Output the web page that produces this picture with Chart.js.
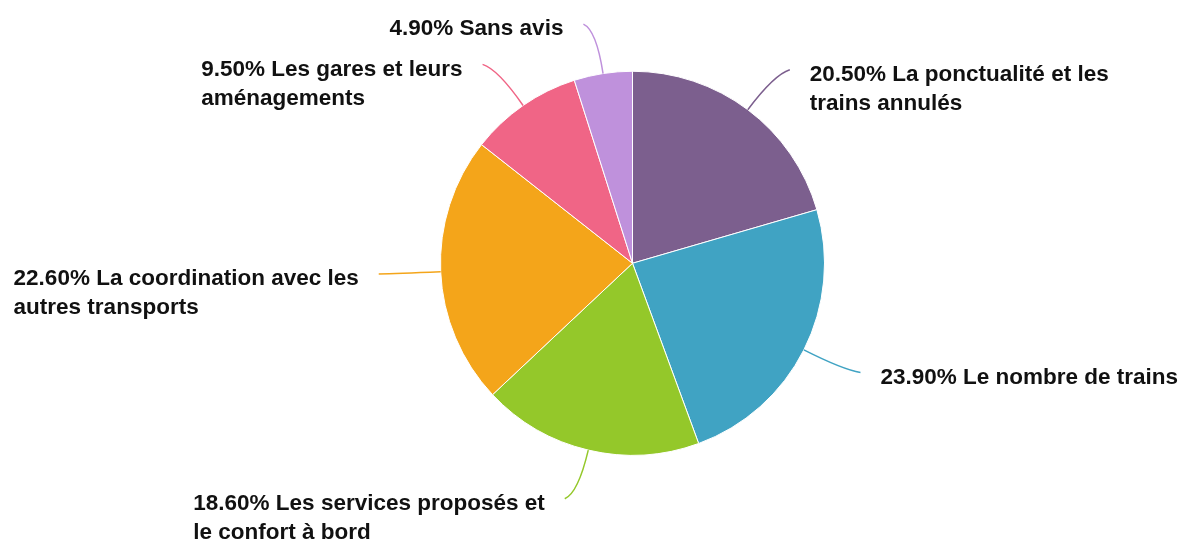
<!DOCTYPE html>
<html>
<head>
<meta charset="utf-8">
<script src="https://cdn.jsdelivr.net/npm/chart.js@4/dist/chart.umd.min.js"></script>
<style>
  html, body { margin: 0; padding: 0; background: #fff; }
  #wrap { width: 1185px; height: 546px; position: relative; }
</style>
</head>
<body>
<div id="wrap"><canvas id="pie"></canvas></div>
<script>
const categories = [
  'La ponctualité et les trains annulés',
  'Le nombre de trains',
  'Les services proposés et le confort à bord',
  'La coordination avec les autres transports',
  'Les gares et leurs aménagements',
  'Sans avis'
];
const shares = [20.5, 23.9, 18.6, 22.6, 9.5, 4.9];
const sliceColors = ['#7c5f8e', '#40a3c3', '#94c82a', '#f4a51a', '#f06586', '#bf91dc'];

const LABEL_FONT = "bold 22.5px 'Liberation Sans', Arial, sans-serif";
const LINE_H = 29;
const WRAP_W = 360;

function wrapText(ctx, text, maxW) {
  const words = text.split(' ');
  const lines = [];
  let cur = '';
  for (const w of words) {
    const test = cur ? cur + ' ' + w : w;
    if (cur && ctx.measureText(test).width > maxW) {
      lines.push(cur);
      cur = w;
    } else {
      cur = test;
    }
  }
  if (cur) lines.push(cur);
  return lines;
}

// curved leader lines + wrapped labels outside each slice
const calloutLabels = {
  id: 'calloutLabels',
  afterDatasetsDraw(chart) {
    const ctx = chart.ctx;
    const meta = chart.getDatasetMeta(0);
    ctx.save();
    ctx.font = LABEL_FONT;
    meta.data.forEach((arc, i) => {
      const { x, y, startAngle, endAngle, outerRadius: r } = arc.getProps(['x', 'y', 'startAngle', 'endAngle', 'outerRadius'], true);
      const mid = (startAngle + endAngle) / 2;
      const cos = Math.cos(mid), sin = Math.sin(mid);
      const right = cos >= 0;
      const dir = right ? 1 : -1;
      const sx = x + r * cos, sy = y + r * sin;
      const cx = x + (r + 44) * cos, cy = y + (r + 44) * sin;
      const ex = x + (r + 50) * cos + 12 * dir, ey = y + (r + 50) * sin;

      ctx.strokeStyle = sliceColors[i];
      ctx.lineWidth = 1.5;
      ctx.beginPath();
      ctx.moveTo(sx, sy);
      ctx.quadraticCurveTo(cx, cy, ex, ey);
      ctx.stroke();

      const text = shares[i].toFixed(2) + '% ' + categories[i];
      const lines = wrapText(ctx, text, WRAP_W);
      const blockW = Math.max(...lines.map(l => ctx.measureText(l).width));
      const tx = right ? ex + 20 : ex - 20 - blockW;
      ctx.fillStyle = '#111';
      ctx.textAlign = 'left';
      ctx.textBaseline = 'middle';
      lines.forEach((l, k) => ctx.fillText(l, tx, ey + 5 + k * LINE_H));
    });
    ctx.restore();
  }
};

new Chart(document.getElementById('pie'), {
  type: 'pie',
  data: {
    labels: categories,
    datasets: [{
      data: shares,
      backgroundColor: sliceColors,
      borderColor: '#ffffff',
      borderWidth: 1
    }]
  },
  options: {
    responsive: true,
    maintainAspectRatio: false,
    animation: false,
    layout: { padding: { left: 440, right: 360, top: 70.5, bottom: 90 } },
    plugins: {
      legend: { display: false },
      tooltip: { enabled: false }
    }
  },
  plugins: [calloutLabels]
});
</script>
</body>
</html>
